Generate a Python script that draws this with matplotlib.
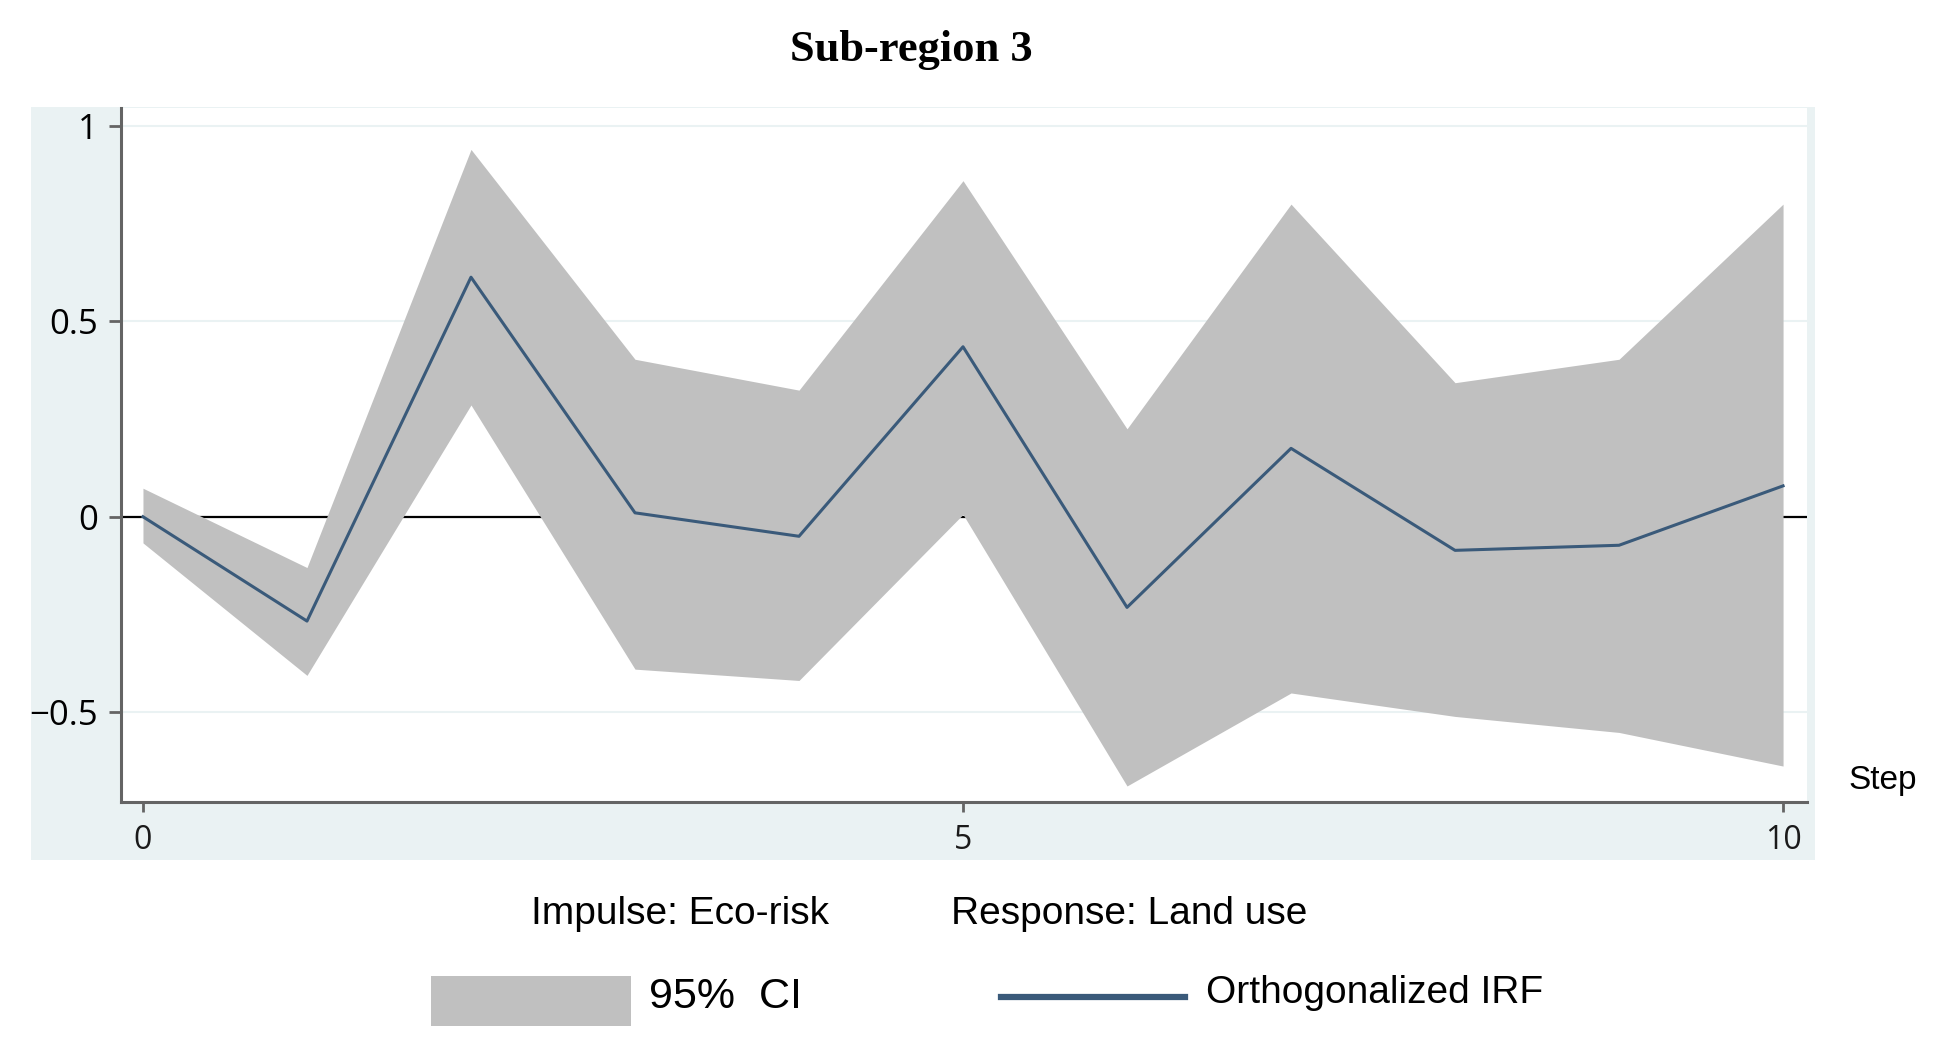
import matplotlib
matplotlib.use("Agg")
import matplotlib.pyplot as plt
from matplotlib.patches import Rectangle
import numpy as np

steps = [0, 1, 2, 3, 4, 5, 6, 7, 8, 9, 10]
irf = [0.0, -0.267, 0.613, 0.01, -0.05, 0.435, -0.232, 0.175, -0.086, -0.073, 0.079]
ci_upper = [0.073, -0.13, 0.94, 0.403, 0.324, 0.86, 0.225, 0.80, 0.343, 0.403, 0.80]
ci_lower = [-0.067, -0.406, 0.286, -0.39, -0.419, 0.006, -0.689, -0.451, -0.511, -0.552, -0.638]
yticks = [-0.5, 0, 0.5, 1]
ytick_labels = ["\u22120.5", "0", "0.5", "1"]
xticks = [0, 5, 10]
xtick_labels = ["0", "5", "10"]

W, H = 1939, 1044
fig = plt.figure(figsize=(W / 100, H / 100), dpi=100)
fig.patch.set_facecolor("white")

def fx(px):
    return px / W

def fy(py):
    return 1 - py / H

# panel background
fig.patches.append(Rectangle((fx(31), fy(860)), fx(1815) - fx(31), fy(107) - fy(860),
                             transform=fig.transFigure, facecolor="#EAF2F3", edgecolor="none", zorder=-10))

ax = fig.add_axes([fx(121), fy(802), fx(1807) - fx(121), fy(108) - fy(802)])
ax.set_zorder(5)
ax.set_facecolor("white")
ax.set_xlim(-0.134, 10.146)
ax.set_ylim(-0.730, 1.046)

for yt in yticks:
    ax.axhline(yt, color="#EAF2F3", lw=1.5, zorder=0)
ax.axhline(0, color="black", lw=1.6, zorder=1)

ax.fill_between(steps, ci_lower, ci_upper, color="#C0C0C0", lw=0, zorder=2)
ax.plot(steps, irf, color="#3A5A7A", lw=2.2, zorder=3)

for s in ["top", "right"]:
    ax.spines[s].set_visible(False)
for s in ["left", "bottom"]:
    ax.spines[s].set_color("#646464")
    ax.spines[s].set_linewidth(2.2)

ax.tick_params(axis="y", length=8.6, width=2, color="#646464", pad=8, labelsize=25)
ax.tick_params(axis="x", length=7.5, width=2, color="#646464", pad=8, labelsize=23, labelcolor="#1a1a1a")
ax.set_yticks(yticks)
ax.set_yticklabels(ytick_labels)
ax.set_xticks(xticks)
ax.set_xticklabels(xtick_labels)
for lab in ax.get_yticklabels() + ax.get_xticklabels():
    lab.set_fontfamily("Open Sans")

fig.text(fx(911), fy(50), "Sub-region 3", fontfamily="Liberation Serif", fontweight="bold",
         fontsize=32, ha="center", va="center")
fig.text(fx(1848), fy(780), "Step", fontfamily="Liberation Sans", fontsize=24, ha="left", va="center")
fig.text(fx(531), fy(914), "Impulse: Eco-risk", fontfamily="Liberation Sans", fontsize=28,
         ha="left", va="center")
fig.text(fx(951), fy(914), "Response: Land use", fontfamily="Liberation Sans", fontsize=28,
         ha="left", va="center")

# legend
fig.patches.append(Rectangle((fx(431), fy(1026)), fx(631) - fx(431), fy(976) - fy(1026),
                             transform=fig.transFigure, facecolor="#C0C0C0", edgecolor="none"))
fig.text(fx(649), fy(997), "95%  CI", fontfamily="Liberation Sans", fontsize=31, ha="left", va="center")
fig.lines.append(plt.Line2D([fx(1001), fx(1185)], [fy(997), fy(997)], transform=fig.transFigure,
                            color="#3A5A7A", lw=4.5))
fig.text(fx(1206), fy(993), "Orthogonalized IRF", fontfamily="Liberation Sans", fontsize=28,
         ha="left", va="center")

fig.savefig("out.png", dpi=100)
